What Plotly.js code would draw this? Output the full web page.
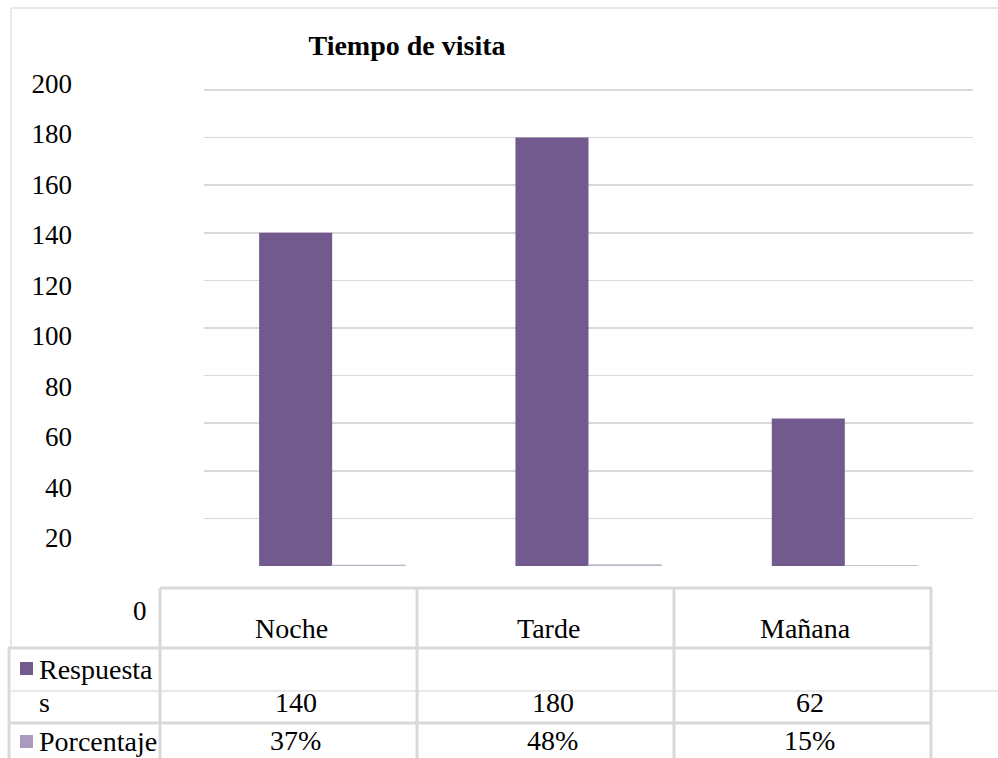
<!DOCTYPE html>
<html>
<head>
<meta charset="utf-8">
<script src="https://cdn.plot.ly/plotly-3.0.1.min.js"></script>
<style>html,body{margin:0;padding:0;background:#fff;}#chart{width:998px;height:758px;}</style>
</head>
<body>
<div id="chart"></div>
<script>
// ---- data ----
const categories = ["Noche", "Tarde", "Mañana"];
const respuestas = [140, 180, 62];
const porcentaje = [0.37, 0.48, 0.15];
const porcentajeLabels = ["37%", "48%", "15%"];
const seriesNames = ["Respuestas", "Porcentaje"];
const seriesColors = ["#725a8f", "#a99bbd"];
const yTicks = [20, 40, 60, 80, 100, 120, 140, 160, 180, 200];
const zeroLabel = "0";
const chartTitle = "Tiempo de visita";

// ---- layout helpers (pixel -> paper) ----
const W = 998, H = 758;
const px = x => x / W;
const py = y => 1 - y / H;
const FONT = "'Times New Roman', 'Liberation Serif', serif";
const GRID = "#d9d9d9";

const traces = [
  {type: "bar", name: seriesNames[0], x: categories, y: respuestas,
   marker: {color: seriesColors[0], line: {width: 0}}, hoverinfo: "x+y"},
  {type: "bar", name: seriesNames[1], x: categories, y: porcentaje,
   marker: {color: seriesColors[1], line: {color: "#c4bfcc", width: 1}}, hoverinfo: "x+y"},
  // helper trace so the label axis (y2) is drawn
  {type: "scatter", mode: "markers", x: [categories[0]], y: [0], xaxis: "x", yaxis: "y2",
   marker: {opacity: 0, size: 1}, hoverinfo: "skip", showlegend: false}
];

const shapes = [];
function line(x0, y0, x1, y1, w, c) {
  shapes.push({type: "line", xref: "paper", yref: "paper",
    x0: px(x0), y0: py(y0), x1: px(x1), y1: py(y1),
    line: {color: c || GRID, width: w}});
}
// outer chart border
line(11, 8, 998, 8, 1.5, "#e0e0e0");
line(11, 8, 11, 648, 1.5, "#e0e0e0");
// data table
line(160, 588, 932, 588, 3);
line(8, 648, 932, 648, 3);
line(11, 691, 998, 691, 1.5, "#e0e0e0");
line(8, 723, 932, 723, 3);
[160, 417, 674, 931].forEach(x => line(x, 588, x, 758, 3));
line(9, 648, 9, 758, 3);

// legend swatches
shapes.push({type: "rect", xref: "paper", yref: "paper", x0: px(20), x1: px(33), y0: py(662), y1: py(675),
  fillcolor: seriesColors[0], line: {width: 0}});
shapes.push({type: "rect", xref: "paper", yref: "paper", x0: px(20), x1: px(33), y0: py(735), y1: py(748),
  fillcolor: seriesColors[1], line: {width: 0}});

const annotations = [];
function txt(t, x, y, anchor, size) {
  annotations.push({text: t, xref: "paper", yref: "paper", x: px(x), y: py(y),
    xanchor: anchor || "center", yanchor: "middle", showarrow: false,
    font: {family: FONT, size: size || 28, color: "#000", weight: "normal"}});
}
const colCenters = [288.5, 545.5, 802.5];
categories.forEach((c, i) => txt(c, colCenters[i] + 3, 628));
respuestas.forEach((v, i) => txt(String(v), colCenters[i] + 7, 702));
porcentajeLabels.forEach((v, i) => txt(v, colCenters[i] + 7, 740));
txt(seriesNames[0].slice(0, 9), 37, 669, "left");
txt(seriesNames[0].slice(9), 37, 702, "left");
txt(seriesNames[1], 37, 741, "left");
txt(zeroLabel, 149, 611, "right", 27);

// y scale: 0 -> 566 px, 200 -> 90 px (2.38 px per unit); range padded so the 200 gridline is drawn
const yTop = 202;
const pxPerUnit = (566 - 90) / 200;

const layout = {
  width: W, height: H,
  margin: {l: 0, r: 0, t: 0, b: 0, pad: 0},
  paper_bgcolor: "#ffffff", plot_bgcolor: "rgba(0,0,0,0)",
  font: {family: FONT, color: "#000"},
  showlegend: false,
  barmode: "group", bargap: 0.43, bargroupgap: 0,
  title: {text: chartTitle, x: px(407), xanchor: "center", y: py(45), yanchor: "middle",
    font: {family: FONT, size: 28, color: "#000", weight: "bold"}},
  xaxis: {domain: [px(204), px(973)], showticklabels: false, showgrid: false,
    zeroline: false, showline: false, ticks: "", fixedrange: true},
  yaxis: {domain: [py(566), py(566 - yTop * pxPerUnit)], range: [0, yTop], tickvals: yTicks,
    showticklabels: false, showgrid: true, gridcolor: GRID, gridwidth: 1.5,
    zeroline: false, showline: false, ticks: "", fixedrange: true},
  yaxis2: {domain: [py(588.5), py(83.5)], range: [0, 200], tickvals: yTicks,
    anchor: "free", position: px(72), side: "left", showgrid: false, zeroline: false,
    showline: false, ticks: "", fixedrange: true,
    tickfont: {family: FONT, size: 27, color: "#000", weight: "normal"}},
  shapes: shapes,
  annotations: annotations
};

Plotly.newPlot("chart", traces, layout, {displayModeBar: false, staticPlot: true});
</script>
</body>
</html>
